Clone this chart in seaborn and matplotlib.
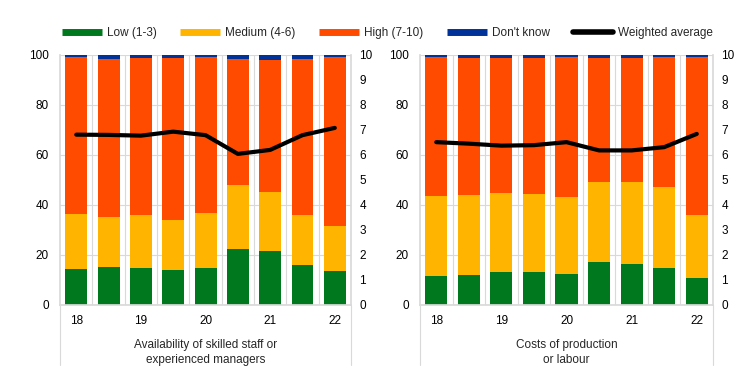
import numpy as np
import pandas as pd
import matplotlib.pyplot as plt
import seaborn as sns
from matplotlib.lines import Line2D

# survey rounds (one bar each), labels shown on every second bar
rounds = ['18a', '18b', '19a', '19b', '20a', '20b', '21a', '21b', '22a']
tick_labels = ['18', '19', '20', '21', '22']

# panel 1: availability of skilled staff or experienced managers (% of firms)
skill_low = [14.4, 15.3, 14.9, 13.9, 14.8, 22.5, 21.5, 15.9, 13.5]
skill_medium = [22.1, 19.8, 21.2, 20.2, 22.1, 25.6, 23.6, 20.2, 18.2]
skill_high = [62.6, 63.4, 62.6, 64.6, 62.3, 50.3, 53.0, 62.4, 67.4]
skill_dk = [0.9, 1.5, 1.3, 1.3, 0.8, 1.6, 1.9, 1.5, 0.9]
skill_avg = [6.81, 6.80, 6.77, 6.93, 6.79, 6.04, 6.20, 6.79, 7.08]

# panel 2: costs of production or labour (% of firms)
cost_low = [11.6, 12.0, 13.1, 13.1, 12.4, 17.1, 16.3, 14.7, 10.8]
cost_medium = [31.8, 31.8, 31.5, 31.4, 30.6, 32.0, 32.7, 32.6, 25.1]
cost_high = [55.9, 54.9, 54.1, 54.2, 56.2, 49.8, 49.7, 51.9, 63.3]
cost_dk = [0.7, 1.3, 1.3, 1.3, 0.8, 1.1, 1.3, 0.8, 0.8]
cost_avg = [6.51, 6.45, 6.37, 6.39, 6.51, 6.18, 6.18, 6.31, 6.84]

series = ['Low (1-3)', 'Medium (4-6)', 'High (7-10)', "Don't know"]
colors = ['#00781e', '#ffb400', '#ff4b00', '#003299']

panels = [
    ('Availability of skilled staff or\nexperienced managers',
     [skill_low, skill_medium, skill_high, skill_dk], skill_avg),
    ('Costs of production\nor labour',
     [cost_low, cost_medium, cost_high, cost_dk], cost_avg),
]

sns.set_theme(style='white')
plt.rcParams['font.family'] = ['Liberation Sans', 'DejaVu Sans']
plt.rcParams['font.size'] = 8.5

fig = plt.figure(figsize=(7.42, 3.76), dpi=100)
boxes = [[0.081, 0.189, 0.392, 0.665], [0.566, 0.189, 0.395, 0.665]]
grid_col = '#d9d9d9'

for box, (title, layers, avg) in zip(boxes, panels):
    ax = fig.add_axes(box)
    df = pd.DataFrame({'round': rounds})
    cum = np.cumsum(np.array(layers), axis=0)
    # draw from the top layer down so lower layers cover the upper ones
    for i in range(len(layers) - 1, -1, -1):
        df['v'] = cum[i]
        sns.barplot(data=df, x='round', y='v', color=colors[i], width=0.68,
                    saturation=1, linewidth=0, ax=ax, zorder=2)
    ax.set_xlim(-0.5, len(rounds) - 0.5)
    ax.set_ylim(0, 100)
    ax.set_yticks(range(0, 101, 20))
    ax.set_xticks(range(0, len(rounds), 2))
    ax.set_xticklabels(tick_labels)
    ax.set_xlabel('')
    ax.set_ylabel('')
    ax.grid(axis='y', color=grid_col, linewidth=0.8, zorder=0)
    for xv in np.arange(0.5, len(rounds) - 0.5, 1):
        ax.axvline(xv, color=grid_col, linewidth=0.8, zorder=0)
    for s in ['top', 'right']:
        ax.spines[s].set_visible(False)
    for s in ['left', 'bottom']:
        ax.spines[s].set_color(grid_col)
    ax.tick_params(axis='both', length=0, labelsize=8.5, colors='black')
    ax.tick_params(axis='x', pad=7)
    ax.tick_params(axis='y', pad=8)
    # category bracket below the axis
    for xa in [0, 1]:
        ax.plot([xa, xa], [0, -0.24], transform=ax.transAxes, color=grid_col,
                linewidth=0.8, clip_on=False)
    ax.text(0.5, -0.245, title, transform=ax.transAxes, ha='center',
            va='bottom', fontsize=8.5, linespacing=1.35)

    ax2 = ax.twinx()
    sns.lineplot(x=np.arange(len(rounds)), y=avg, color='black', linewidth=3,
                 ax=ax2, zorder=5)
    ax2.set_ylim(0, 10)
    ax2.set_yticks(range(0, 11))
    ax2.set_xlim(-0.5, len(rounds) - 0.5)
    for s in ['top', 'left', 'bottom']:
        ax2.spines[s].set_visible(False)
    ax2.spines['right'].set_color(grid_col)
    ax2.tick_params(axis='y', length=0, labelsize=8.5, colors='black', pad=6)
    ax2.grid(False)

handles = [Line2D([], [], color=c, linewidth=5, solid_capstyle='butt')
           for c in colors]
handles.append(Line2D([], [], color='black', linewidth=4,
                      solid_capstyle='round'))
fig.legend(handles, series + ['Weighted average'], loc='center',
           bbox_to_anchor=(0.522, 0.912), ncol=5, frameon=False,
           handlelength=3.4, handletextpad=0.4, columnspacing=2.0,
           fontsize=8.5)

fig.savefig('out.png', dpi=100)
